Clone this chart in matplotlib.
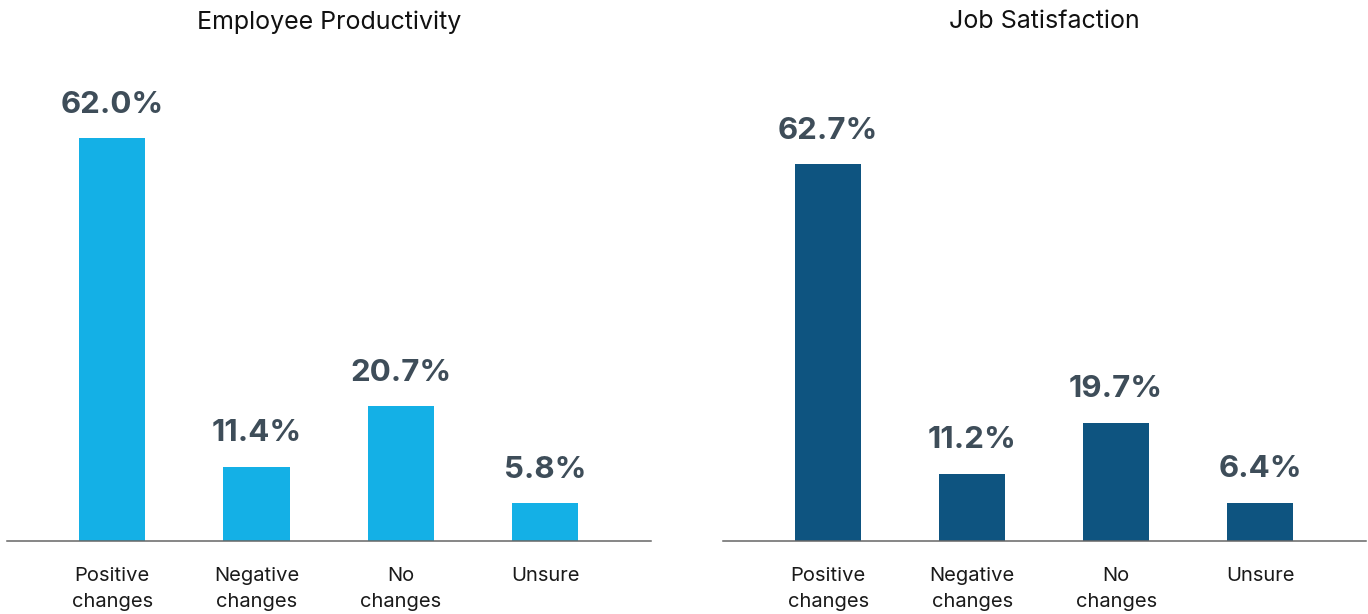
import matplotlib
matplotlib.use("Agg")
import matplotlib.pyplot as plt

categories = ["Positive\nchanges", "Negative\nchanges", "No\nchanges", "Unsure"]
productivity = [62.0, 11.4, 20.7, 5.8]
satisfaction = [62.7, 11.2, 19.7, 6.4]
titles = ["Employee Productivity", "Job Satisfaction"]

plt.rcParams["font.family"] = ["Inter", "DejaVu Sans"]

LIGHT_BLUE = "#14b0e6"
DARK_BLUE = "#0e5480"
LABEL_GREY = "#3e4d59"

fig = plt.figure(figsize=(13.68, 6.14), dpi=100)

panels = [
    (productivity, LIGHT_BLUE, [0.0051, 0.1189, 0.4708, 0.7834], 74.0, titles[0]),
    (satisfaction, DARK_BLUE, [0.5285, 0.1189, 0.4700, 0.7834], 80.0, titles[1]),
]

for values, color, rect, ymax, title in panels:
    ax = fig.add_axes(rect)
    x = list(range(len(categories)))
    bars = ax.bar(x, values, width=0.46, color=color, zorder=2)
    for b, v in zip(bars, values):
        ax.annotate(f"{v:.1f}%", (b.get_x() + b.get_width() / 2, v),
                    xytext=(0, 14), textcoords="offset points",
                    ha="center", va="bottom", fontsize=22.5, fontweight="bold",
                    color=LABEL_GREY)
    ax.set_xlim(-0.73, 3.735)
    ax.set_ylim(0, ymax)
    ax.set_xticks(x)
    ax.set_xticklabels(categories, fontsize=14.5, color="#1a1a1a", linespacing=1.55)
    ax.tick_params(axis="x", length=0, pad=19)
    ax.set_yticks([])
    for side in ["left", "right", "top"]:
        ax.spines[side].set_visible(False)
    ax.spines["bottom"].set_color("#666666")
    ax.spines["bottom"].set_linewidth(1.1)
    ax.spines["bottom"].set_zorder(3)
    cx = rect[0] + rect[2] / 2
    fig.text(cx, 1 - 22 / 614, title, ha="center", va="center", fontsize=18,
             color="#111111")

fig.savefig("out.png", dpi=100)
